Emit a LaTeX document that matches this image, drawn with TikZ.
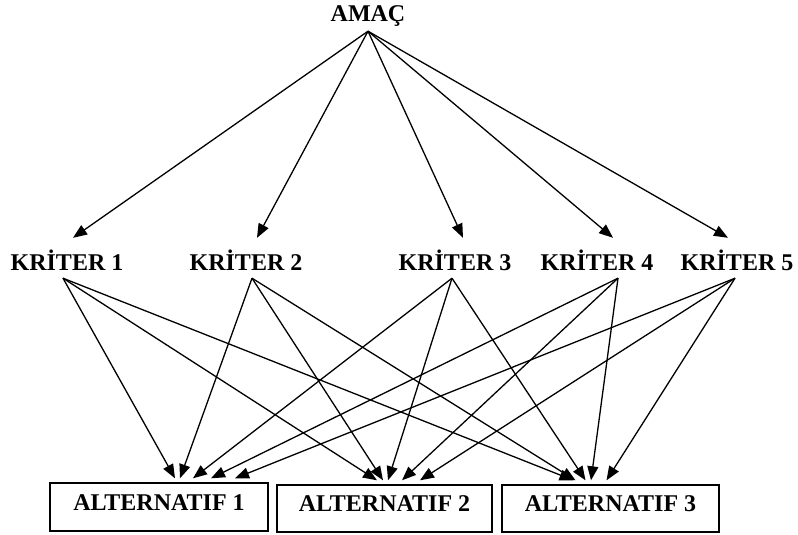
\documentclass[tikz,border=0pt]{standalone}
\usepackage{fontspec}
\setmainfont{Liberation Serif}
\usetikzlibrary{arrows.meta}
\begin{document}
\begin{tikzpicture}[x=1pt,y=-1pt,
  lbl/.style={font=\bfseries\fontsize{24}{28}\selectfont, inner sep=0pt, text height=16pt, text depth=0pt},
  altbox/.style={draw, line width=1.4pt, inner sep=0pt, minimum height=47pt,
    font=\bfseries\fontsize{24}{28}\selectfont, text height=16pt, text depth=10pt},
  arr/.style={line width=1.3pt, -{Triangle[length=14pt,width=11pt]}}]
\useasboundingbox (0,0) rectangle (798,535);
\node[lbl] (amac) at (368,13.5) {AMAÇ};
\node[lbl] (k1) at (67,262.5) {KRİTER 1};
\node[lbl] (k2) at (246,262.5) {KRİTER 2};
\node[lbl] (k3) at (455,262.5) {KRİTER 3};
\node[lbl] (k4) at (597,262.5) {KRİTER 4};
\node[lbl] (k5) at (737,262.5) {KRİTER 5};
\node[altbox, minimum width=218pt, minimum height=48pt] (a1) at (159,507) {ALTERNATIF 1};
\node[altbox, minimum width=215pt] (a2) at (384.5,508.5) {ALTERNATIF 2};
\node[altbox, minimum width=217pt] (a3) at (610.5,508.5) {ALTERNATIF 3};
% goal to criteria
\draw[arr] ([yshift=-9.5pt]amac.south) -- ([xshift=6pt,yshift=16.5pt]k1.north);
\draw[arr] ([yshift=-9.5pt]amac.south) -- ([xshift=11pt,yshift=16.5pt]k2.north);
\draw[arr] ([yshift=-9.5pt]amac.south) -- ([xshift=8pt,yshift=16.5pt]k3.north);
\draw[arr] ([yshift=-9.5pt]amac.south) -- ([xshift=16pt,yshift=16.5pt]k4.north);
\draw[arr] ([yshift=-9.5pt]amac.south) -- ([xshift=-9pt,yshift=16.5pt]k5.north);
% criteria to alternative 1
\draw[arr] ([xshift=-4pt,yshift=-7.5pt]k1.south) -- ([xshift=16pt,yshift=4pt]a1.north);
\draw[arr] ([xshift=6pt,yshift=-7.5pt]k2.south) -- ([xshift=21pt,yshift=4pt]a1.north);
\draw[arr] ([xshift=-3pt,yshift=-7.5pt]k3.south) -- ([xshift=34pt,yshift=4pt]a1.north);
\draw[arr] ([xshift=21pt,yshift=-7.5pt]k4.south) -- ([xshift=52pt,yshift=4pt]a1.north);
\draw[arr] ([xshift=-2pt,yshift=-7.5pt]k5.south) -- ([xshift=76pt,yshift=4pt]a1.north);
% criteria to alternative 2
\draw[arr] ([xshift=-4pt,yshift=-7.5pt]k1.south) -- ([xshift=-7.5pt,yshift=4pt]a2.north);
\draw[arr] ([xshift=6pt,yshift=-7.5pt]k2.south) -- ([xshift=-1.5pt,yshift=4pt]a2.north);
\draw[arr] ([xshift=-3pt,yshift=-7.5pt]k3.south) -- ([xshift=3.5pt,yshift=4pt]a2.north);
\draw[arr] ([xshift=21pt,yshift=-7.5pt]k4.south) -- ([xshift=17.5pt,yshift=4pt]a2.north);
\draw[arr] ([xshift=-2pt,yshift=-7.5pt]k5.south) -- ([xshift=35.5pt,yshift=4pt]a2.north);
% criteria to alternative 3
\draw[arr] ([xshift=-4pt,yshift=-7.5pt]k1.south) -- ([xshift=-37pt,yshift=4pt]a3.north);
\draw[arr] ([xshift=6pt,yshift=-7.5pt]k2.south) -- ([xshift=-35pt,yshift=4pt]a3.north);
\draw[arr] ([xshift=-3pt,yshift=-7.5pt]k3.south) -- ([xshift=-25pt,yshift=4pt]a3.north);
\draw[arr] ([xshift=21pt,yshift=-7.5pt]k4.south) -- ([xshift=-19.5pt,yshift=4pt]a3.north);
\draw[arr] ([xshift=-2pt,yshift=-7.5pt]k5.south) -- ([xshift=-4pt,yshift=4pt]a3.north);
\end{tikzpicture}
\end{document}
